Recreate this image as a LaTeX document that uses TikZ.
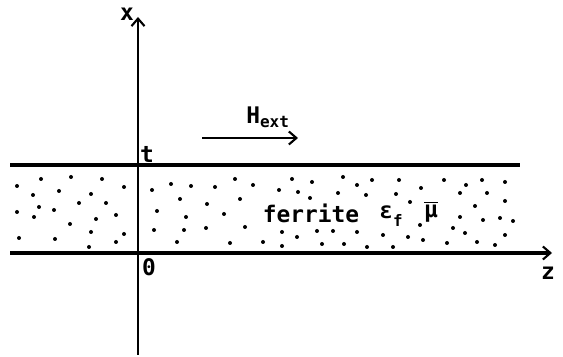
\documentclass[tikz,border=0pt]{standalone}
\usepackage{fontspec}
\setmainfont{DejaVu Sans Mono}
\usetikzlibrary{arrows.meta,positioning}

\begin{document}
\begin{tikzpicture}[x=0.02cm,y=0.02cm,font=\bfseries\fontsize{13}{15}\selectfont,
  barb/.style={-{Straight Barb[length=0.15cm,width=0.26cm,line width=1.2pt]}},
  axis/.style={line width=1.3pt,barb},
  slab/.style={line width=1.8pt},
  lbl/.style={inner sep=0pt}]
\useasboundingbox (0,0) rectangle (563,357);
\coordinate (xbot) at (138,2);
\coordinate (xtop) at (138,340);
\coordinate (zleft) at (10,104);
\coordinate (zright) at (552,104);
\coordinate (tleft) at (10,192);
\coordinate (tright) at (520,192);
\coordinate (hstart) at (202,219);
\coordinate (hend) at (298,219);
\foreach \px/\py in {17/171,41/178,71/180,102/178,124/170,33/162,59/166,91/163,
  17/145,39/150,54/147,79/154,106/154,34/140,96/138,116/142,70/133,91/125,
  124/123,19/119,55/118,116/115,89/110,152/167,171/173,191/171,180/158,
  157/146,186/140,154/127,184/127,177/115,215/170,235/178,253/172,279/167,
  292/178,298/165,312/175,343/180,357/172,372/177,338/164,366/162,399/177,
  396/163,421/169,444/177,466/172,482/177,505/175,460/164,487/164,310/159,
  240/158,207/153,410/155,475/151,505/156,224/143,460/140,483/137,500/139,
  513/136,420/132,206/129,245/130,282/125,317/126,333/126,357/125,383/122,
  408/120,423/117,453/129,465/124,505/122,230/114,263/115,282/111,297/120,
  322/113,344/113,367/110,393/110,447/114,477/115,495/112}
  \fill (\px,\py) circle (2);
\draw[slab] (tleft) -- (tright);
\draw[slab,barb] (zleft) -- (zright);
\draw[axis] (xbot) -- (xtop);
\draw[line width=1.2pt,barb] (hstart) -- (hend);
\node[lbl] (xlabel) at (127,343) {x};
\node[lbl] (zlabel) at (548,84) {z};
\node[lbl] (tlabel) at (147,203) {t};
\node[lbl] (olabel) at (149,90) {0};
\node[lbl] (hext) at (268,240) {H\textsubscript{ext}};
\node[lbl] (ferrite) at (311,144) {ferrite};
\node[lbl] (epsf) at (391,141) {ε\raisebox{-0.6ex}{\fontsize{9}{10}\selectfont f}};
\node[lbl] (mubar) at (431,145) {$\overline{\hbox{μ}}$};
\end{tikzpicture}
\end{document}
